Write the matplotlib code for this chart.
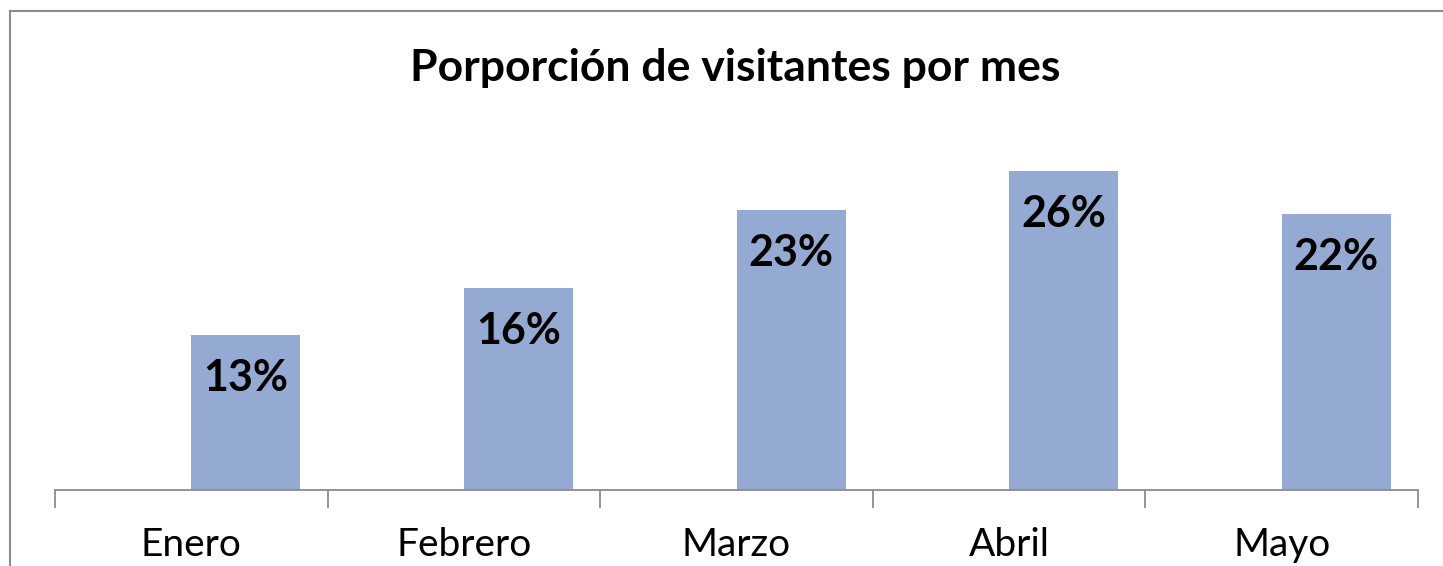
import matplotlib
matplotlib.use("Agg")
import matplotlib.pyplot as plt
from matplotlib.lines import Line2D

meses = ["Enero", "Febrero", "Marzo", "Abril", "Mayo"]
proporcion = [0.127, 0.165, 0.229, 0.261, 0.226]
etiquetas = ["13%", "16%", "23%", "26%", "22%"]

BAR_COLOR = "#95AAD2"
LINE_COLOR = "#8C8C8C"
FONT = ["Lato", "DejaVu Sans"]

fig = plt.figure(figsize=(14.43, 5.66), dpi=100)
ax = fig.add_axes([55 / 1443, 1 - 490 / 566, (1418 - 55) / 1443, 367 / 566])

# la barra ocupa la mitad derecha de cada categoria (como serie agrupada)
pos = [i + 0.2 for i in range(len(meses))]
bars = ax.bar(pos, proporcion, width=0.4, color=BAR_COLOR, zorder=2)
ax.set_xlim(-0.5, len(meses) - 0.5)
ax.set_ylim(0, 0.30)

for bar, txt in zip(bars, etiquetas):
    ax.annotate(txt, (bar.get_x() + bar.get_width() / 2, bar.get_height()),
                xytext=(0, -43), textcoords="offset pixels",
                ha="center", va="center", fontsize=31, fontweight="bold",
                family=FONT, color="black")

for side in ["top", "right", "left"]:
    ax.spines[side].set_visible(False)
ax.spines["bottom"].set_color(LINE_COLOR)
ax.spines["bottom"].set_linewidth(1.3)
ax.set_yticks([])
ax.set_xticks([i - 0.5 for i in range(len(meses) + 1)])
ax.set_xticklabels([])
ax.tick_params(axis="x", length=13, width=1.3, color=LINE_COLOR)
for i, m in enumerate(meses):
    ax.annotate(m, (i, 0), xytext=(0, -55), textcoords="offset pixels",
                ha="center", va="center", fontsize=28, family=FONT,
                annotation_clip=False)

fig.text(735 / 1443, 1 - 68 / 566, "Porporción de visitantes por mes",
         ha="center", va="center", fontsize=32, fontweight="bold", family=FONT)

# marco del grafico (recortado a la derecha y abajo)
x0 = 10 / 1443
y0 = 1 - 11 / 566
fig.add_artist(Line2D([x0, x0], [0, y0], transform=fig.transFigure,
                      color=LINE_COLOR, linewidth=1.5))
fig.add_artist(Line2D([x0, 1], [y0, y0], transform=fig.transFigure,
                      color=LINE_COLOR, linewidth=1.5))

fig.savefig("out.png", dpi=100)
